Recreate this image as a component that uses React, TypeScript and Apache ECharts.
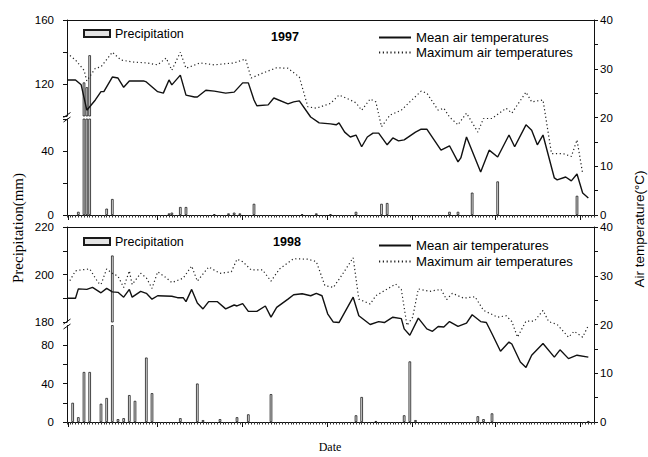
import React, { useEffect, useRef } from 'react';
import * as echarts from 'echarts';

// ---------- data (day index from start of season) ----------
const precip1997: [number, number][] = [
  [4, 2], [6, 121], [7, 118], [8, 138], [14, 4], [16, 10], [36, 1], [37, 1.5], [40, 5], [42, 5],
  [52, 0.5], [57, 1], [59, 1.5], [61, 1], [66, 7], [83, 0.5], [88, 1], [93, 0.5], [102, 2],
  [111, 7], [113, 7.5], [135, 2], [138, 2], [143, 14], [152, 21], [180, 12],
];
const mean1997: [number, number][] = [
  [0, 27.7], [3, 27.7], [5, 26.7], [7, 21.5], [10, 23.6], [12, 25.3], [13, 25.3], [16, 28.3], [18, 28.1],
  [20, 26.2], [22, 27.5], [27, 27.5], [28, 27.3], [32, 25.3], [34, 25], [36, 27.7], [37, 26.7], [40, 28.7],
  [42, 24.6], [45, 24.2], [46, 24.2], [49, 25.6], [52, 25.4], [56, 25], [59, 25.2], [62, 27.1], [64, 27.1],
  [66, 23.6], [67, 22.4], [71, 22.6], [73, 24], [78, 22.8], [80, 23.2], [82, 23.4], [86, 20.1], [89, 18.9],
  [93, 18.7], [95, 18.5], [96, 18.9], [98, 17], [100, 16], [102, 16.4], [104, 14], [106, 16], [108, 16.8],
  [110, 16.8], [113, 14.4], [115, 15.8], [117, 15.2], [119, 15.4], [123, 17], [125, 17.6], [127, 17.6],
  [132, 13.3], [135, 14.2], [138, 10.9], [139, 11.7], [141, 16], [146, 8.8], [149, 13.3], [152, 11.9],
  [156, 16.4], [158, 14], [162, 18.5], [164, 17.4], [166, 14.4], [168, 16.4], [172, 7.6], [173, 7.2],
  [176, 7.8], [178, 7], [180, 8.4], [182, 4.5], [184, 3.5],
];
const max1997: [number, number][] = [
  [0, 33.2], [3, 31.8], [6, 29.7], [7, 27.5], [10, 30.1], [12, 30.4], [16, 33.4], [19, 31.8], [23, 31.4],
  [28, 31.2], [32, 30.8], [35, 32.2], [37, 29.7], [40, 33.4], [42, 30.1], [47, 31.2], [52, 30.8], [59, 31.2],
  [63, 32], [65, 28.1], [69, 29.1], [74, 30.2], [78, 30.1], [82, 28.3], [85, 22.2], [88, 21.9], [93, 22.9],
  [96, 24.6], [100, 23.6], [102, 23], [104, 21.5], [107, 23.8], [109, 23.2], [111, 18.1], [114, 20.5],
  [118, 21.5], [121, 23.2], [125, 25.4], [127, 25], [131, 21.5], [133, 21.9], [135, 20.1], [138, 18.5],
  [141, 20.9], [145, 17], [147, 19.8], [150, 19.8], [155, 21.9], [157, 20.9], [162, 25.2], [164, 23.2],
  [168, 23.6], [171, 12.6], [175, 12.6], [178, 12], [180, 15.4], [182, 8.5],
];
const precip1998: [number, number][] = [
  [2, 20], [4, 5], [6, 52], [8, 52], [12, 19], [14, 25], [16, 208], [18, 3], [20, 4], [22, 28], [24, 22],
  [28, 67], [30, 30], [40, 4], [46, 40], [48, 2], [54, 3], [60, 5], [64, 8], [72, 29], [102, 7], [104, 26],
  [109, 1], [119, 7], [121, 63], [123, 2], [145, 6], [147, 3], [150, 9], [184, 1],
];
const mean1998: [number, number][] = [
  [0, 25.4], [3, 25.4], [4, 27.3], [7, 27.2], [9, 27.6], [12, 26.5], [14, 27.4], [16, 26.7], [18, 26.6],
  [20, 25.6], [22, 27.2], [23, 25.6], [26, 26.8], [28, 26.4], [30, 25.2], [32, 25.9], [37, 25.8], [39, 25.5],
  [41, 25.5], [42, 24.7], [44, 27.2], [46, 24.4], [48, 23.2], [50, 24.7], [53, 24.7], [56, 23.2], [59, 24],
  [60, 23.8], [62, 24.3], [64, 22.7], [67, 22.7], [70, 23.8], [72, 21.5], [74, 23.5], [78, 25.2], [80, 26.1],
  [83, 26.3], [86, 25.9], [88, 26.4], [90, 25.9], [92, 22.2], [94, 20.5], [96, 20.4], [101, 25.6], [103, 21.8],
  [107, 20], [110, 20.6], [112, 20.4], [115, 21.5], [118, 21.2], [119, 19.1], [121, 17.8], [124, 21.3],
  [127, 19.1], [129, 18.6], [131, 19.6], [133, 19.5], [135, 20.6], [138, 19.6], [141, 20.3], [143, 22],
  [146, 20.6], [148, 20.4], [150, 18.1], [153, 14.5], [156, 16.4], [157, 16], [160, 12.3], [162, 11.2],
  [164, 13.7], [168, 16.1], [172, 13.3], [174, 14.8], [177, 13], [180, 13.7], [184, 13.3],
];
const max1998: [number, number][] = [
  [1, 29], [3, 31], [5, 31.2], [8, 31.4], [11, 28.6], [12, 28.2], [14, 31.4], [16, 30.5], [18, 29.9],
  [20, 27.6], [22, 31], [23, 28.2], [26, 30.5], [28, 29.6], [30, 27.4], [32, 30.8], [35, 29.6], [37, 28.6],
  [41, 29.5], [44, 32], [46, 28.9], [50, 31.8], [54, 30.5], [58, 30.8], [60, 33.4], [62, 32.9], [65, 31.2],
  [69, 31.2], [72, 28.9], [75, 31.4], [80, 33.5], [85, 33.4], [88, 32.9], [91, 28], [94, 27.6], [97, 30.1],
  [101, 33.7], [103, 25.2], [107, 24.2], [109, 25.9], [116, 28.3], [118, 27.2], [120, 19.8], [122, 21.5],
  [124, 27.3], [128, 26.8], [132, 27.2], [134, 25.1], [136, 26.4], [140, 25.4], [144, 25.7], [147, 22.9],
  [152, 21.5], [155, 21.8], [157, 20.6], [159, 17.4], [162, 20.7], [165, 20.7], [168, 22.9], [170, 20.6],
  [173, 20], [177, 17.4], [179, 18.6], [182, 17.4], [184, 19.8],
];

// ---------- axis ticks / labels ----------
const upperTicks1997 = [100, 120, 140, 160];
const upperLabels1997 = [120, 160];
const lowerTicks1997 = [0, 20, 40, 60];
const lowerLabels1997 = [0, 40];
const upperTicks1998 = [180, 190, 200, 210, 220];
const upperLabels1998 = [180, 200, 220];
const lowerTicks1998 = [0, 20, 40, 60, 80];
const lowerLabels1998 = [0, 40, 80];
const tempTicks = [0, 5, 10, 15, 20, 25, 30, 35, 40];
const tempLabels = [0, 10, 20, 30, 40];
const monthTicks = [0.5, 31.8, 61.8, 91.8, 121.8, 151, 181];

const SANS = '"Liberation Sans", Arial, sans-serif';
const SERIF = '"Liberation Serif", "Times New Roman", serif';
const INK = '#111';
const X_MIN = 0;
const X_MAX = 186;

interface PanelCfg {
  top: number;
  upperH: number;
  lowerTop: number;
  lowerH: number;
  upperMin: number;
  upperMax: number;
  lowerMax: number;
  upperTicks: number[];
  upperLabels: number[];
  lowerTicks: number[];
  lowerLabels: number[];
  precip: [number, number][];
  mean: [number, number][];
  max: [number, number][];
}

function buildPanel(p: number, c: PanelCfg) {
  const g0 = p * 3;
  const x0 = p * 4;
  const y0 = p * 3;
  const left = 67;
  const right = 54;
  const grids = [
    { left, right, top: c.top, height: c.upperH },
    { left, right, top: c.lowerTop, height: c.lowerH },
    { left, right, top: c.top, height: c.lowerTop + c.lowerH - c.top },
  ];
  const xAxes = [
    { type: 'value', min: X_MIN, max: X_MAX, show: false, gridIndex: g0 },
    {
      type: 'value', gridIndex: g0 + 1, position: 'bottom', min: X_MIN, max: X_MAX, interval: 1,
      axisLine: { show: true, onZero: false, lineStyle: { color: INK, width: 1 } },
      axisTick: { show: true, inside: false, length: 2.5, lineStyle: { color: '#333', width: 1 } },
      axisLabel: { show: false }, splitLine: { show: false },
    },
    {
      type: 'value', gridIndex: g0 + 1, position: 'bottom', min: X_MIN, max: X_MAX,
      axisLine: { show: false, onZero: false },
      axisTick: { show: true, inside: false, length: 5, customValues: monthTicks, lineStyle: { color: INK, width: 1 } },
      axisLabel: { show: false }, splitLine: { show: false },
    },
    {
      type: 'value', gridIndex: g0 + 2, position: 'top', min: X_MIN, max: X_MAX,
      axisLine: { show: true, onZero: false, lineStyle: { color: INK, width: 1 } },
      axisTick: { show: false }, axisLabel: { show: false }, splitLine: { show: false },
    },
  ];
  const leftLabel = { show: true, margin: 13, color: '#000', fontFamily: SANS, fontSize: 11.5 };
  const yAxes = [
    {
      type: 'value', gridIndex: g0, position: 'left', min: c.upperMin, max: c.upperMax,
      axisLine: { show: true, onZero: false, lineStyle: { color: INK, width: 1 } },
      axisTick: { show: true, length: 4, customValues: c.upperTicks, lineStyle: { color: INK } },
      axisLabel: { ...leftLabel, customValues: c.upperLabels },
      splitLine: { show: false },
    },
    {
      type: 'value', gridIndex: g0 + 1, position: 'left', min: 0, max: c.lowerMax,
      axisLine: { show: true, onZero: false, lineStyle: { color: INK, width: 1 } },
      axisTick: { show: true, length: 4, customValues: c.lowerTicks, lineStyle: { color: INK } },
      axisLabel: { ...leftLabel, customValues: c.lowerLabels },
      splitLine: { show: false },
    },
    {
      type: 'value', gridIndex: g0 + 2, position: 'right', min: 0, max: 40,
      axisLine: { show: true, onZero: false, lineStyle: { color: INK, width: 1 } },
      axisTick: { show: true, length: 4, customValues: tempTicks, lineStyle: { color: INK } },
      axisLabel: { show: true, margin: 6, color: '#000', fontFamily: SANS, fontSize: 11.5, customValues: tempLabels },
      splitLine: { show: false },
    },
  ];
  const barStyle = { color: '#e4e4e4', borderColor: '#1a1a1a', borderWidth: 0.8 };
  const series = [
    {
      type: 'bar', name: 'Precipitation', xAxisIndex: x0, yAxisIndex: y0, data: c.precip,
      barWidth: 2.6, itemStyle: barStyle, clip: true, z: 2,
    },
    {
      type: 'bar', name: 'Precipitation', xAxisIndex: x0 + 1, yAxisIndex: y0 + 1, data: c.precip,
      barWidth: 2.6, itemStyle: barStyle, clip: true, z: 2,
    },
    {
      type: 'line', name: 'Mean air temperatures', xAxisIndex: x0 + 3, yAxisIndex: y0 + 2, data: c.mean,
      symbol: 'none', lineStyle: { color: INK, width: 1.4 }, itemStyle: { color: INK }, z: 3,
    },
    {
      type: 'line', name: 'Maximum air temperatures', xAxisIndex: x0 + 3, yAxisIndex: y0 + 2, data: c.max,
      symbol: 'none', lineStyle: { color: '#222', width: 1.2, type: [1.2, 2.6] }, itemStyle: { color: '#222' }, z: 3,
    },
  ];
  return { grids, xAxes, yAxes, series };
}

const panel97 = buildPanel(0, {
  top: 20, upperH: 96, lowerTop: 119, lowerH: 96,
  upperMin: 100, upperMax: 160, lowerMax: 60,
  upperTicks: upperTicks1997, upperLabels: upperLabels1997,
  lowerTicks: lowerTicks1997, lowerLabels: lowerLabels1997,
  precip: precip1997, mean: mean1997, max: max1997,
});
const panel98 = buildPanel(1, {
  top: 227, upperH: 95, lowerTop: 325.5, lowerH: 96.5,
  upperMin: 180, upperMax: 220, lowerMax: 100.3,
  upperTicks: upperTicks1998, upperLabels: upperLabels1998,
  lowerTicks: lowerTicks1998, lowerLabels: lowerLabels1998,
  precip: precip1998, mean: mean1998, max: max1998,
});

const legendText = { fontFamily: SANS, fontSize: 12.5, color: '#000' };
const legendTextWide = { fontFamily: SANS, fontSize: 13.2, color: '#000' };
function legends(topPrecip: number, topMean: number, topMax: number) {
  return [
    {
      data: [{ name: 'Precipitation', icon: 'rect' }], left: 83, top: topPrecip, padding: 0, itemWidth: 26, itemHeight: 7,
      selectedMode: false, textStyle: legendText,
    },
    {
      data: ['Mean air temperatures'], left: 378, top: topMean, padding: 0, itemWidth: 32, itemHeight: 10,
      selectedMode: false, textStyle: legendTextWide, itemStyle: { opacity: 0, borderWidth: 0 },
    },
    {
      data: ['Maximum air temperatures'], left: 378, top: topMax, padding: 0, itemWidth: 32, itemHeight: 10,
      selectedMode: false, textStyle: legendTextWide, itemStyle: { opacity: 0, borderWidth: 0 },
    },
  ];
}

function breakMarks(yA: number, yB: number) {
  return [
    { type: 'line', shape: { x1: 63.5, y1: yA + 2.5, x2: 70.5, y2: yA - 2.5 }, style: { stroke: INK, lineWidth: 1 } },
    { type: 'line', shape: { x1: 63.5, y1: yB + 2.5, x2: 70.5, y2: yB - 2.5 }, style: { stroke: INK, lineWidth: 1 } },
  ];
}

export default function App() {
  const ref = useRef<HTMLDivElement>(null);
  useEffect(() => {
    if (!ref.current) return;
    const chart = echarts.init(ref.current, undefined, { renderer: 'svg' });
    const option: any = {
      animation: false,
      backgroundColor: '#fff',
      grid: [...panel97.grids, ...panel98.grids],
      xAxis: [...panel97.xAxes, ...panel98.xAxes],
      yAxis: [...panel97.yAxes, ...panel98.yAxes],
      series: [...panel97.series, ...panel98.series],
      legend: [...legends(27, 31, 46), ...legends(235, 239, 255)],
      graphic: [
        ...breakMarks(115, 119.5),
        ...breakMarks(321.5, 326.5),
        {
          type: 'text', x: 285, y: 37,
          style: { text: '1997', fontFamily: SANS, fontWeight: 'bold', fontSize: 12.5, fill: '#000', align: 'center', verticalAlign: 'middle' },
        },
        {
          type: 'text', x: 287, y: 242,
          style: { text: '1998', fontFamily: SANS, fontWeight: 'bold', fontSize: 12.5, fill: '#000', align: 'center', verticalAlign: 'middle' },
        },
        {
          type: 'text', x: 18, y: 228, rotation: Math.PI / 2,
          style: { text: 'Precipitation(mm)', fontFamily: SERIF, fontSize: 15, fill: '#000', align: 'center', verticalAlign: 'middle' },
        },
        {
          type: 'text', x: 639, y: 229, rotation: Math.PI / 2,
          style: { text: 'Air temperature(°C)', fontFamily: SANS, fontSize: 13.5, fill: '#000', align: 'center', verticalAlign: 'middle' },
        },
        {
          type: 'text', x: 330, y: 447,
          style: { text: 'Date', fontFamily: SERIF, fontSize: 12, fill: '#000', align: 'center', verticalAlign: 'middle' },
        },
      ],
    };
    chart.setOption(option);
    return () => chart.dispose();
  }, []);
  return (
    <div
      ref={ref}
      style={{ position: 'absolute', left: 0, top: 0, width: 648, height: 457, background: '#fff' }}
    />
  );
}
